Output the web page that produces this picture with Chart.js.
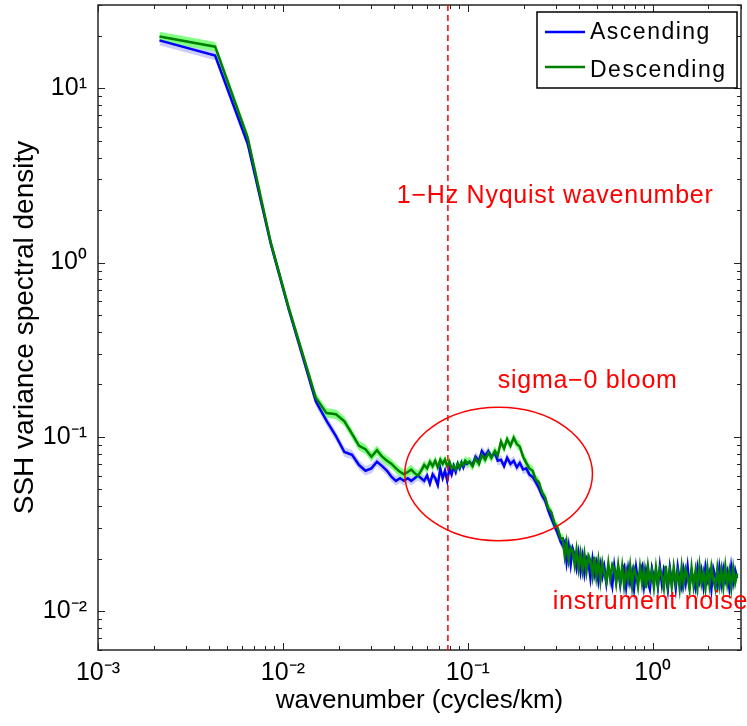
<!DOCTYPE html>
<html><head><meta charset="utf-8">
<script src="https://cdn.jsdelivr.net/npm/chart.js@4.4.1/dist/chart.umd.min.js"></script>
<style>html,body{margin:0;padding:0;background:#fff;}#wrap{width:747px;height:726px;}</style>
</head><body><div id="wrap"><canvas id="c" width="747" height="726"></canvas></div>
<script>
// wavenumber (cycles/km)
const wavenumber = [
  0.00215, 0.0043, 0.00645, 0.0086, 0.01075, 0.0129, 0.01505, 0.0172, 0.01935, 0.0215,
  0.02365, 0.0258, 0.02795, 0.0301, 0.03225, 0.0344, 0.03655, 0.0387, 0.04085, 0.043,
  0.04515, 0.0473, 0.04945, 0.0516, 0.05375, 0.0559, 0.05805, 0.0602, 0.06235, 0.0645,
  0.06665, 0.0688, 0.07095, 0.0731, 0.07525, 0.0774, 0.07955, 0.0817, 0.08385, 0.086,
  0.08815, 0.0903, 0.09245, 0.0946, 0.09675, 0.0989,
  0.102, 0.106, 0.110, 0.115, 0.119, 0.124, 0.129, 0.134, 0.140, 0.145,
  0.151, 0.157, 0.163, 0.170, 0.177, 0.184, 0.191, 0.199, 0.207, 0.215,
  0.224, 0.233, 0.242, 0.252, 0.262, 0.272, 0.283, 0.294, 0.306, 0.318,
  0.326, 0.334, 0.342, 0.351, 0.360, 0.369, 0.378, 0.387, 0.397, 0.407,
  0.417, 0.427, 0.438, 0.449, 0.460, 0.472, 0.483, 0.495, 0.508, 0.521,
  0.534, 0.547, 0.561, 0.575, 0.589, 0.604, 0.619, 0.634, 0.650, 0.667,
  0.683, 0.700, 0.718, 0.736, 0.754, 0.773, 0.792, 0.812, 0.832, 0.853,
  0.875, 0.896, 0.919, 0.942, 0.965, 0.989, 1.014, 1.040, 1.066, 1.092,
  1.120, 1.148, 1.176, 1.206, 1.236, 1.267, 1.298, 1.331, 1.364, 1.398,
  1.433, 1.469, 1.506, 1.543, 1.582, 1.621, 1.662, 1.703, 1.746, 1.790,
  1.834, 1.880, 1.927, 1.975, 2.025, 2.075, 2.127, 2.180, 2.235, 2.291,
  2.348, 2.407, 2.467, 2.528, 2.592, 2.656, 2.723, 2.791, 2.860
];
const ascending = [
  18.8, 15.4, 4.8, 1.28, 0.54, 0.28, 0.16, 0.124, 0.101, 0.082,
  0.079, 0.069, 0.064, 0.066, 0.072, 0.068, 0.064, 0.059, 0.056, 0.058,
  0.056, 0.058, 0.056, 0.058, 0.060, 0.058, 0.056, 0.060, 0.054, 0.061,
  0.058, 0.053, 0.066, 0.058, 0.064, 0.056, 0.066, 0.061, 0.068, 0.063,
  0.070, 0.066, 0.071, 0.067, 0.072, 0.070,
  0.072, 0.069, 0.077, 0.073, 0.083, 0.078, 0.083, 0.077, 0.081, 0.073,
  0.074, 0.068, 0.076, 0.070, 0.073, 0.067, 0.071, 0.065, 0.066, 0.061,
  0.059, 0.055, 0.051, 0.046, 0.043, 0.038, 0.034, 0.031, 0.028, 0.025,
  0.0238, 0.0250, 0.0192, 0.0236, 0.0186, 0.0228, 0.0210, 0.0178, 0.0215, 0.0170,
  0.0205, 0.0165, 0.0201, 0.0190, 0.0155, 0.0198, 0.0163, 0.0188, 0.0150, 0.0185,
  0.0158, 0.0180, 0.0145, 0.0178, 0.0163, 0.0140, 0.0182, 0.0150, 0.0176, 0.0142,
  0.0170, 0.0180, 0.0138, 0.0175, 0.0146, 0.0168, 0.0135, 0.0179, 0.0150, 0.0166,
  0.0180, 0.0139, 0.0171, 0.0147, 0.0134, 0.0176, 0.0155, 0.0170, 0.0138, 0.0181,
  0.0143, 0.0175, 0.0163, 0.0133, 0.0178, 0.0148, 0.0169, 0.0136, 0.0180, 0.0152,
  0.0137, 0.0172, 0.0145, 0.0181, 0.0140, 0.0166, 0.0152, 0.0135, 0.0177, 0.0149,
  0.0171, 0.0139, 0.0179, 0.0150, 0.0166, 0.0134, 0.0175, 0.0158, 0.0140, 0.0178,
  0.0143, 0.0175, 0.0150, 0.0168, 0.0137, 0.0180, 0.0146, 0.0172, 0.0155
];
const descending = [
  19.8, 17.3, 5.2, 1.3, 0.55, 0.29, 0.168, 0.137, 0.135, 0.123,
  0.104, 0.089, 0.085, 0.077, 0.084, 0.077, 0.073, 0.070, 0.066, 0.063,
  0.061, 0.063, 0.065, 0.062, 0.060, 0.064, 0.069, 0.066, 0.072, 0.068,
  0.073, 0.067, 0.074, 0.070, 0.074, 0.068, 0.072, 0.066, 0.068, 0.065,
  0.070, 0.067, 0.071, 0.069, 0.073, 0.071,
  0.072, 0.068, 0.075, 0.070, 0.079, 0.074, 0.081, 0.076, 0.083, 0.078,
  0.094, 0.086, 0.097, 0.089, 0.099, 0.091, 0.088, 0.077, 0.071, 0.066,
  0.064, 0.057, 0.055, 0.048, 0.045, 0.039, 0.037, 0.032, 0.030, 0.026,
  0.0262, 0.0208, 0.0248, 0.0196, 0.0232, 0.0222, 0.0185, 0.0225, 0.0176, 0.0214,
  0.0172, 0.0212, 0.0169, 0.0208, 0.0196, 0.0160, 0.0205, 0.0158, 0.0196, 0.0150,
  0.0190, 0.0166, 0.0148, 0.0188, 0.0153, 0.0185, 0.0176, 0.0145, 0.0184, 0.0147,
  0.0181, 0.0140, 0.0172, 0.0150, 0.0183, 0.0139, 0.0176, 0.0162, 0.0138, 0.0179,
  0.0144, 0.0174, 0.0136, 0.0181, 0.0150, 0.0170, 0.0137, 0.0178, 0.0142, 0.0175,
  0.0160, 0.0136, 0.0182, 0.0141, 0.0172, 0.0138, 0.0179, 0.0146, 0.0168, 0.0135,
  0.0180, 0.0143, 0.0174, 0.0157, 0.0134, 0.0178, 0.0140, 0.0171, 0.0137, 0.0182,
  0.0145, 0.0167, 0.0136, 0.0177, 0.0142, 0.0180, 0.0152, 0.0135, 0.0176, 0.0141,
  0.0173, 0.0138, 0.0181, 0.0144, 0.0170, 0.0136, 0.0177, 0.0146, 0.0165
];
// relative half-width of the shaded confidence band
const bandFactor = 1.065;
const xTickExponents = [-3, -2, -1, 0];
const yTickExponents = [-2, -1, 0, 1];
const nyquistK = 0.078;
const bloomK = [0.0456, 0.472];
const bloomV = [0.0254, 0.148];
const noteTexts = ['1\u2212Hz Nyquist wavenumber', 'sigma\u22120 bloom', 'instrument noise'];
const noteK = [0.0413, 0.145, 0.288];
const noteV = [2.19, 0.190, 0.01027];

const FONT = '"Liberation Sans", Arial, Helvetica, sans-serif';
const SUP = {'-': '\u207B', '0': '\u2070', '1': '\u00B9', '2': '\u00B2', '3': '\u00B3'};
const sup = n => String(n).split('').map(c => SUP[c]).join('');

const pts = (arr, f) => wavenumber.map((k, i) => ({x: k, y: arr[i] * f}));

const decorations = {
  id: 'decorations',
  afterDraw(chart) {
    const {ctx, chartArea: a, scales: {x, y}} = chart;
    ctx.save();
    // tick marks (inside, all four sides)
    ctx.strokeStyle = '#222'; ctx.lineWidth = 1;
    const minorVals = (lo, hi) => {
      const out = [];
      for (let e = -4; e <= 2; e++) for (let m = 1; m <= 9; m++) {
        const v = m * Math.pow(10, e);
        if (v >= lo * 0.999 && v <= hi * 1.001) out.push({v, major: m === 1});
      }
      return out;
    };
    ctx.beginPath();
    minorVals(x.min, x.max).forEach(t => {
      const px = Math.round(x.getPixelForValue(t.v)) + 0.5, L = t.major ? 7 : 4;
      ctx.moveTo(px, a.bottom); ctx.lineTo(px, a.bottom - L);
      ctx.moveTo(px, a.top); ctx.lineTo(px, a.top + L);
    });
    minorVals(y.min, y.max).forEach(t => {
      const py = Math.round(y.getPixelForValue(t.v)) + 0.5, L = t.major ? 7 : 4;
      ctx.moveTo(a.left, py); ctx.lineTo(a.left + L, py);
      ctx.moveTo(a.right, py); ctx.lineTo(a.right - L, py);
    });
    ctx.stroke();
    // frame
    ctx.lineWidth = 1.5; ctx.strokeStyle = '#262626';
    ctx.strokeRect(a.left, a.top, a.right - a.left, a.bottom - a.top);
    // Nyquist line
    const nx = x.getPixelForValue(nyquistK);
    ctx.strokeStyle = '#ff0000'; ctx.lineWidth = 1.5; ctx.setLineDash([6, 4]);
    ctx.beginPath(); ctx.moveTo(nx, a.top); ctx.lineTo(nx, a.bottom); ctx.stroke();
    ctx.setLineDash([]);
    // bloom ellipse
    const ex0 = x.getPixelForValue(bloomK[0]), ex1 = x.getPixelForValue(bloomK[1]);
    const ey0 = y.getPixelForValue(bloomV[0]), ey1 = y.getPixelForValue(bloomV[1]);
    ctx.beginPath();
    ctx.ellipse((ex0 + ex1) / 2, (ey0 + ey1) / 2, Math.abs(ex1 - ex0) / 2, Math.abs(ey0 - ey1) / 2, 0, 0, 2 * Math.PI);
    ctx.stroke();
    // annotations
    ctx.fillStyle = '#ff0000';
    ctx.font = '25px ' + FONT;
    ctx.letterSpacing = '0.75px';
    ctx.textAlign = 'left'; ctx.textBaseline = 'alphabetic';
    noteTexts.forEach((t, i) => ctx.fillText(t, x.getPixelForValue(noteK[i]), y.getPixelForValue(noteV[i])));
    // legend
    const entries = chart.data.datasets.filter(d => d.inLegend).sort((p, q) => p.legendOrder - q.legendOrder);
    const lx = a.right - 204, ly = a.top + 7, lw = 200, lh = 76;
    ctx.fillStyle = '#fff'; ctx.fillRect(lx, ly, lw, lh);
    ctx.strokeStyle = '#000'; ctx.lineWidth = 1.5; ctx.strokeRect(lx, ly, lw, lh);
    ctx.font = '23px ' + FONT; ctx.letterSpacing = '1.5px';
    entries.forEach((d, i) => {
      const yy = ly + 20 + i * 35;
      ctx.strokeStyle = d.borderColor; ctx.lineWidth = 2.5;
      ctx.beginPath(); ctx.moveTo(lx + 8, yy); ctx.lineTo(lx + 48, yy); ctx.stroke();
      ctx.fillStyle = '#000';
      ctx.fillText(d.label, lx + 53, yy + 7 + i * 3);
    });
    ctx.restore();
  }
};

const band = {borderColor: 'transparent', borderWidth: 0, pointRadius: 0, tension: 0};
new Chart(document.getElementById('c'), {
  type: 'line',
  data: {
    datasets: [
      {label: 'Descending', data: pts(descending, 1), borderColor: '#008000', borderWidth: 2.5, pointRadius: 0, fill: false, tension: 0, inLegend: true, legendOrder: 1},
      {label: 'Ascending', data: pts(ascending, 1), borderColor: '#0000ff', borderWidth: 2.5, pointRadius: 0, fill: false, tension: 0, inLegend: true, legendOrder: 0},
      Object.assign({label: 'Descending upper', data: pts(descending, bandFactor), fill: '+1', backgroundColor: 'rgb(128,255,128)'}, band),
      Object.assign({label: 'Descending lower', data: pts(descending, 1 / bandFactor), fill: false}, band),
      Object.assign({label: 'Ascending upper', data: pts(ascending, bandFactor), fill: '+1', backgroundColor: 'rgb(204,204,255)'}, band),
      Object.assign({label: 'Ascending lower', data: pts(ascending, 1 / bandFactor), fill: false}, band)
    ]
  },
  options: {
    responsive: false,
    animation: false,
    devicePixelRatio: 1,
    layout: {padding: {top: 5, right: 6, left: 0, bottom: 0}},
    plugins: {legend: {display: false}, tooltip: {enabled: false}},
    events: [],
    scales: {
      x: {
        type: 'logarithmic', position: 'bottom', min: 0.001, max: 3,
        grid: {display: false, drawTicks: false},
        border: {display: false},
        afterBuildTicks: s => { s.ticks = xTickExponents.map(e => ({value: Math.pow(10, e)})); },
        afterFit: s => { s.height = 76; s.paddingLeft = 0; s.paddingRight = 0; },
        ticks: {
          autoSkip: false, maxRotation: 0, padding: 8, color: '#000',
          font: {family: FONT, size: 25},
          callback: v => '10' + sup(Math.round(Math.log10(v)))
        },
        title: {display: true, text: 'wavenumber (cycles/km)', color: '#000', font: {family: FONT, size: 26}, padding: 10}
      },
      y: {
        type: 'logarithmic', position: 'left', min: 0.006, max: 30,
        grid: {display: false, drawTicks: false},
        border: {display: false},
        afterBuildTicks: s => { s.ticks = yTickExponents.map(e => ({value: Math.pow(10, e)})); },
        afterFit: s => { s.width = 98; s.paddingTop = 0; s.paddingBottom = 0; },
        ticks: {
          autoSkip: false, padding: 11, color: '#000',
          font: {family: FONT, size: 25},
          callback: v => '10' + sup(Math.round(Math.log10(v)))
        },
        title: {display: true, text: 'SSH variance spectral density', color: '#000', font: {family: FONT, size: 28}, padding: 8}
      }
    }
  },
  plugins: [decorations]
});
</script>
</body></html>
